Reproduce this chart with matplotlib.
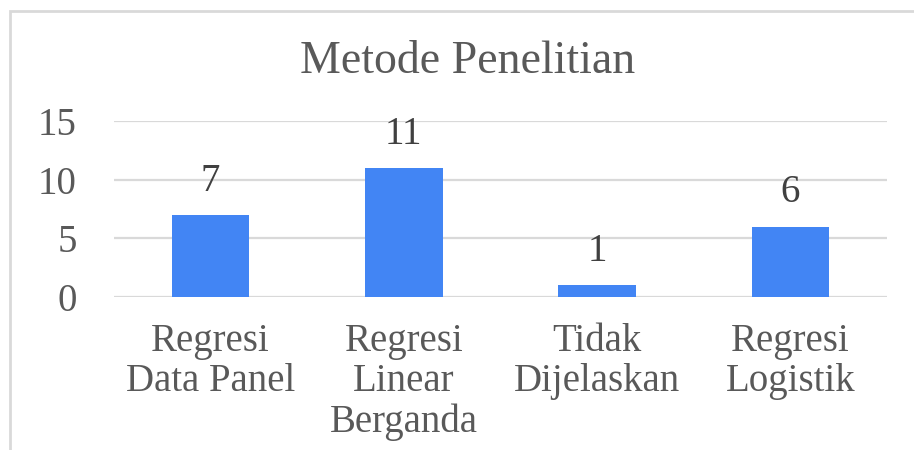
import matplotlib.pyplot as plt
from matplotlib.patches import Rectangle

categories = ["Regresi\nData Panel", "Regresi\nLinear\nBerganda", "Tidak\nDijelaskan", "Regresi\nLogistik"]
values = [7, 11, 1, 6]
yticks = [0, 5, 10, 15]

plt.rcParams['font.family'] = ['Liberation Serif', 'DejaVu Serif']

fig = plt.figure(figsize=(9.14, 4.5), dpi=100)
ax = fig.add_axes([114/914, 1 - 297/450, (887 - 114)/914, (297 - 121)/450])

# chart frame (cut off at the right and bottom)
fig.patches.append(Rectangle((10/914, -0.1), 1.2, (450 - 11)/450 + 0.1,
                             transform=fig.transFigure, fill=False,
                             edgecolor='#D9D9D9', linewidth=2))

x = range(len(categories))
bars = ax.bar(x, values, width=0.4, color='#4285F4', zorder=3)
for xi, v in zip(x, values):
    ax.annotate(str(v), (xi, v), xytext=(0, 11), textcoords='offset points',
                ha='center', va='bottom', fontsize=28, color='#404040')

ax.set_xlim(-0.5, 3.5)
ax.set_ylim(0, 15)
ax.set_yticks(yticks)
ax.set_xticks(list(x))
ax.set_xticklabels(categories, linespacing=1.1)
ax.tick_params(axis='y', length=0, pad=27, labelsize=28, labelcolor='#595959')
ax.tick_params(axis='x', length=0, pad=19, labelsize=28, labelcolor='#595959')
ax.grid(axis='y', color='#D9D9D9', linewidth=1.6, zorder=0)
for s in ax.spines.values():
    s.set_visible(False)

fig.text(468/914, 1 - 62/450, "Metode Penelitian", ha='center', va='center',
         fontsize=33, color='#595959')

fig.savefig('out.png', dpi=100)
